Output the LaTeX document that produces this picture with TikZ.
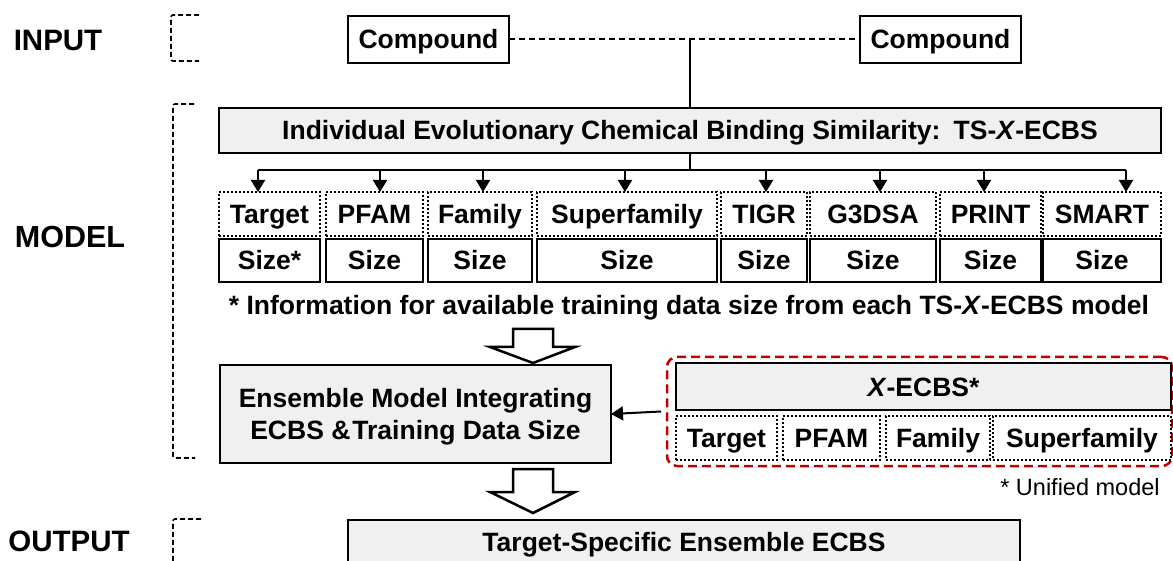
\documentclass[tikz,border=0pt]{standalone}
\usepackage{fontspec}
\setmainfont{Liberation Sans}
\usetikzlibrary{arrows.meta,calc}
\definecolor{boxgray}{HTML}{F0F0F0}
\definecolor{unired}{HTML}{C00000}

\tikzset{
  every node/.style={inner sep=0pt, outer sep=0pt},
  % text boxes are centred on the capital letters
  lbl/.style={font=\bfseries\fontsize{26.5}{30}\selectfont, text height=19pt, text depth=0pt},
  solidbox/.style={draw, line width=2.5pt, lbl},
  graybox/.style={solidbox, fill=boxgray},
  dotbox/.style={draw, line width=2pt, dash pattern=on 2pt off 2pt, lbl},
  stage/.style={font=\bfseries\fontsize{29.5}{32}\selectfont, text height=21pt, text depth=0pt},
  bracket/.style={line width=1.6pt, dash pattern=on 5pt off 3pt, rounded corners=2pt},
  conn/.style={line width=2pt},
  tip/.style={conn, -{Triangle[length=12pt,width=14pt]}},
  hollow/.style={line width=2.5pt, fill=white, line join=miter},
}

\begin{document}
\begin{tikzpicture}[x=1pt,y=-1pt]
\useasboundingbox (0,0) rectangle (1173,561);

% stage labels and their brackets
\node[stage] (lin)  at (58,40)  {INPUT};
\node[stage, font=\bfseries\fontsize{30.5}{32}\selectfont] (lmod) at (70,237) {MODEL};
\node[stage] (lout) at (69,541) {OUTPUT};
\draw[bracket] (199,15) -- (171,15) -- (171,61) -- (199,61);
\draw[bracket] (194,104) -- (173,104) -- (173,458) -- (195,458);
\draw[bracket] (201,519) -- (173,519) -- (173,575);

% input compounds
\node[solidbox, minimum width=161pt, minimum height=47pt] (c1) at (428.5,39.5) {Compound};
\node[solidbox, minimum width=161pt, minimum height=47pt] (c2) at (940.5,39.5) {Compound};
\coordinate (j) at (690,40);
\draw[conn, dash pattern=on 6pt off 4pt] (c1) -- (c2);

% individual models
\node[graybox, minimum width=942pt, minimum height=45pt] (ecbs) at (690,130.5)
  {Individual Evolutionary Chemical Binding Similarity:\hspace{0.5em}TS-\textit{X}-ECBS};
\draw[conn] (j) -- (j |- ecbs.north);
\coordinate (bar) at (690,170);
\draw[conn] (ecbs.south -| bar) -- (bar);

\foreach \n/\l/\r/\a/\txt/\sz in {
  1/219/320/258/Target/Size*,
  2/326/423/380/PFAM/Size,
  3/428/532/483/Family/Size,
  4/537/717/625/Superfamily/Size,
  5/721/807/766/TIGR/Size,
  6/810/936/880/G3DSA/Size,
  7/940/1041/984/PRINT/Size,
  8/1043/1161/1126/SMART/Size}{
  \node[dotbox, minimum width={\r-\l}, minimum height=44pt] (t\n) at ({(\l+\r)/2},214) {\txt};
  \node[solidbox, minimum width={\r-\l}, minimum height=43pt] (s\n) at ({(\l+\r)/2},260.5) {\sz};
  \coordinate (b\n) at (\a,170);
}
\draw[conn] (b1) -- (b8);
\foreach \n in {1,...,8}{
  \draw[tip] (b\n) -- (b\n |- t\n.north);
}

\node[lbl] (fn) at (689,305)
  {* Information for available training data size from each TS-\textit{X}-ECBS model};

% ensemble stage
\draw[hollow] (513,329) -- (553,329) -- (553,347) -- (575,347) -- (533,363)
  -- (490,347) -- (513,347) -- cycle;
\node[graybox, minimum width=391pt, minimum height=98pt,
  label={[align=center, yshift=-3pt, font=\bfseries\fontsize{26.5}{32}\selectfont]center:{Ensemble Model Integrating\\ECBS \&\hspace{2pt}Training Data Size}}]
  (ens) at (415.5,414) {};

% unified model group
\node[draw=unired, line width=2.5pt, dash pattern=on 9pt off 5pt, rounded corners=10pt,
  minimum width=505pt, minimum height=109pt] (uni) at (919.5,411.5) {};
\node[graybox, minimum width=495pt, minimum height=47pt] (xe) at (923.5,386.5) {\textit{X}-ECBS*};
\foreach \n/\l/\r/\txt in {1/676/777/Target, 2/783/880/PFAM, 3/886/990/Family, 4/993/1171/Superfamily}{
  \node[dotbox, minimum width={\r-\l}, minimum height=44pt] (u\n) at ({(\l+\r)/2},438) {\txt};
}
\draw[tip] ([xshift=-6pt]uni.west) -- (ens.east);
\node[font=\fontsize{23.5}{26}\selectfont, text height=17pt, text depth=0pt] (um) at (1080,487) {* Unified model};

% output
\draw[hollow] (513,469) -- (553,469) -- (553,492) -- (575,492) -- (533,513)
  -- (490,492) -- (513,492) -- cycle;
\node[graybox, minimum width=672pt, minimum height=44pt] (out) at (684,542)
  {Target-Specific Ensemble ECBS};
\end{tikzpicture}
\end{document}
